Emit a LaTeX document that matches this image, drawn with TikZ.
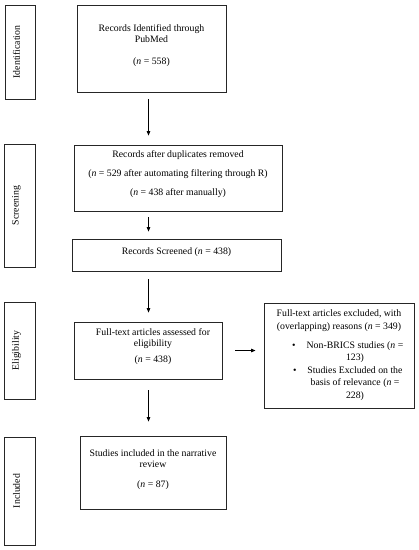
\documentclass[tikz,border=0pt]{standalone}
\usepackage{fontspec}
\setmainfont{Liberation Serif}
\usetikzlibrary{arrows.meta,calc}
\begin{document}
\begin{tikzpicture}[x=1pt,y=-1pt,
  frame/.style={draw=black!85, line width=0.9pt, inner sep=0pt},
  txt/.style={align=center, inner sep=0pt, font=\fontsize{9.8}{11.5}\selectfont},
  sidetxt/.style={rotate=90, inner sep=0pt, font=\fontsize{9.8}{11.5}\selectfont},
  arr/.style={line width=0.7pt, -{Triangle[length=4.5pt,width=3.6pt]}}]
\useasboundingbox (0,0) rectangle (419,550);

% side stage boxes
\node[frame, minimum width=30pt, minimum height=94pt]  (s1) at (20,52) {};
\node[frame, minimum width=31pt, minimum height=123pt] (s2) at (19.5,205.5) {};
\node[frame, minimum width=31pt, minimum height=97pt]  (s3) at (19.5,350.5) {};
\node[frame, minimum width=31pt, minimum height=108pt] (s4) at (19.5,491) {};
\node[sidetxt] (s1t) at (16.5,52) {Identification};
\node[sidetxt] (s2t) at (16.5,205.5) {Screening};
\node[sidetxt] (s3t) at (16.5,350.5) {Eligibility};
\node[sidetxt] (s4t) at (16.5,491) {Included};

% flow boxes
\node[frame, minimum width=149pt, minimum height=87pt]  (b1) at (151.5,48.5) {};
\node[frame, minimum width=208pt, minimum height=66pt]  (b2) at (178,178) {};
\node[frame, minimum width=209pt, minimum height=32pt]  (b3) at (176.5,255) {};
\node[frame, minimum width=148pt, minimum height=57pt]  (b4) at (148,350.5) {};
\node[frame, minimum width=150pt, minimum height=105pt] (b5) at (339,355.5) {};
\node[frame, minimum width=146pt, minimum height=73pt]  (b6) at (153,472.5) {};

\node[txt] (b1t) at (151.5,45.5) {Records Identified through\\ PubMed\\[10.5pt] (\textit{n} = 558)};
\node[txt] (b2t) at (178,174) {Records after duplicates removed\\[7.5pt] (\textit{n} = 529 after automating filtering through R)\\[7.5pt] (\textit{n} = 438 after manually)};
\node[txt] (b3t) at (176.5,252) {Records Screened (\textit{n} = 438)};
\node[txt] (b4t) at (153,346.5) {Full-text articles assessed for\\ eligibility\\[4.5pt] (\textit{n} = 438)};
\node[txt, align=flush center, text width=149pt, font=\fontsize{9.8}{12.5}\selectfont] (b5t) at (339,355) {%
Full-text articles excluded, with\par
(overlapping) reasons (\textit{n} = 349)\par
\vspace{6.5pt}
{\leftskip=38pt plus 1fil\rightskip=6pt plus 1fil\parfillskip=0pt
\leavevmode\llap{\textbullet\hspace{11pt}}Non-BRICS studies (\textit{n} =\par
123)\par
\leavevmode\llap{\textbullet\hspace{11pt}}Studies Excluded on the\par
basis of relevance (\textit{n} =\par
228)\par}};
\node[txt] (b6t) at (153,469.5) {Studies included in the narrative\\ review\\[8.5pt] (\textit{n} = 87)};

% connectors
\coordinate (ax) at (148.5,0);
\draw[arr] ($(b1.south -| ax)+(0,7)$) -- ($(b2.north -| ax)+(0,-9)$);
\draw[arr] ($(b2.south -| ax)+(0,6)$) -- ($(b3.north -| ax)+(0,-7)$);
\draw[arr] ($(b3.south -| ax)+(0,8)$) -- ($(b4.north -| ax)+(0,-9)$);
\draw[arr] ($(b4.south -| ax)+(0,11)$) -- ($(b6.north -| ax)+(0,-14)$);
\draw[arr] ($(b4.east)+(13,0)$) -- ($(b4.east -| b5.west)+(-8,0)$);
\end{tikzpicture}
\end{document}
